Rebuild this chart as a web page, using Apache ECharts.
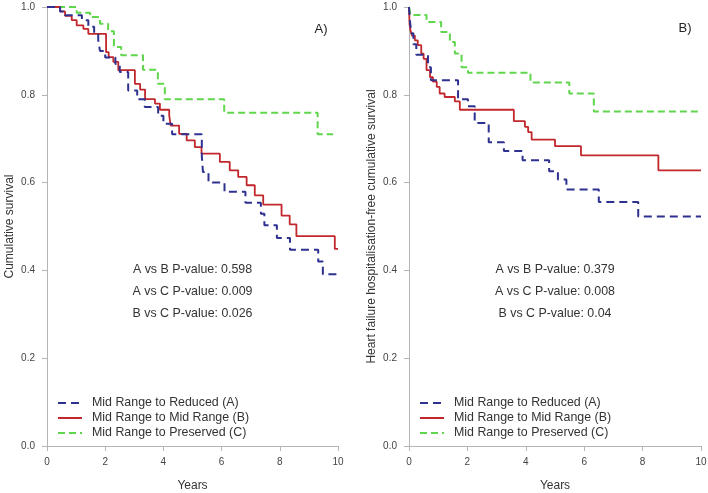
<!DOCTYPE html>
<html>
<head>
<meta charset="utf-8">
<script src="https://cdn.jsdelivr.net/npm/echarts@6/dist/echarts.min.js"></script>
<style>
html,body{margin:0;padding:0;background:#fff;}
#chart{width:708px;height:493px;}
</style>
</head>
<body>
<div id="chart"></div>
<script>
// ---------- DATA ----------
var seriesNames = ['Mid Range to Reduced (A)', 'Mid Range to Mid Range (B)', 'Mid Range to Preserved (C)'];
var xTicks = [0, 2, 4, 6, 8, 10];
var yTicks = [0.0, 0.2, 0.4, 0.6, 0.8, 1.0];

// Panel A) all-cause cumulative survival
var leftA_t = [0, 0.45, 0.62, 1.2, 1.42, 1.62, 1.76, 1.82, 2.0, 2.35, 2.5, 2.79, 3.1, 3.36, 3.82, 4.0, 4.3, 5.32, 5.36, 5.55, 6.1, 6.82, 7.35, 7.47, 7.9, 8.35, 9.32, 9.48, 10.0];
var leftA_s = [1.0, 0.99, 0.981, 0.97, 0.955, 0.94, 0.925, 0.90, 0.885, 0.87, 0.852, 0.81, 0.79, 0.772, 0.752, 0.734, 0.71, 0.66, 0.624, 0.60, 0.579, 0.554, 0.529, 0.503, 0.474, 0.447, 0.42, 0.391, 0.391];
var leftB_t = [0, 0.45, 0.62, 0.85, 1.02, 1.25, 1.42, 2.03, 2.12, 2.28, 2.45, 3.02, 3.2, 3.37, 3.71, 3.88, 4.2, 4.25, 4.54, 4.8, 5.08, 5.31, 5.94, 6.28, 6.57, 6.86, 7.14, 7.43, 8.06, 8.34, 8.57, 9.89, 10.0];
var leftB_s = [1.0, 0.99, 0.98, 0.97, 0.958, 0.95, 0.939, 0.897, 0.886, 0.875, 0.856, 0.825, 0.812, 0.79, 0.78, 0.766, 0.753, 0.73, 0.711, 0.696, 0.681, 0.666, 0.647, 0.628, 0.613, 0.594, 0.571, 0.55, 0.525, 0.505, 0.478, 0.449, 0.449];
var leftC_t = [0, 1.02, 1.48, 1.82, 2.1, 2.3, 2.55, 3.3, 3.81, 4.05, 6.09, 9.30, 9.83];
var leftC_s = [1.0, 0.987, 0.977, 0.962, 0.945, 0.909, 0.89, 0.857, 0.825, 0.79, 0.759, 0.71, 0.71];

// Panel B) heart failure hospitalisation-free survival
var rightA_t = [0, 0.03, 0.08, 0.15, 0.25, 0.65, 0.75, 1.68, 2.02, 2.25, 2.73, 3.25, 3.89, 4.8, 5.1, 5.39, 6.5, 7.85, 10.0];
var rightA_s = [1.0, 0.97, 0.94, 0.915, 0.891, 0.863, 0.833, 0.79, 0.774, 0.736, 0.692, 0.672, 0.651, 0.626, 0.607, 0.584, 0.556, 0.523, 0.523];
var rightB_t = [0, 0.02, 0.05, 0.1, 0.2, 0.3, 0.42, 0.5, 0.6, 0.72, 0.82, 0.95, 1.05, 1.22, 1.57, 1.74, 3.59, 3.97, 4.08, 4.2, 5.0, 5.89, 8.54, 10.0];
var rightB_s = [1.0, 0.96, 0.947, 0.935, 0.924, 0.913, 0.894, 0.882, 0.856, 0.84, 0.83, 0.818, 0.803, 0.795, 0.785, 0.766, 0.74, 0.727, 0.715, 0.698, 0.683, 0.662, 0.628, 0.628];
var rightC_t = [0, 0.05, 0.6, 1.1, 1.4, 1.57, 1.8, 2.02, 4.16, 5.49, 6.33, 10.0];
var rightC_s = [1.0, 0.982, 0.966, 0.943, 0.92, 0.894, 0.863, 0.85, 0.828, 0.803, 0.762, 0.762];

var panelLabels = ['A)', 'B)'];
var yAxisNames = ['Cumulative survival', 'Heart failure hospitalisation-free cumulative survival'];
var xAxisName = 'Years';
var pTextLeft = ['A vs B P-value: 0.598', 'A vs C P-value: 0.009', 'B vs C P-value: 0.026'];
var pTextRight = ['A vs B P-value: 0.379', 'A vs C P-value: 0.008', 'B vs C P-value: 0.04'];

// ---------- BUILD ----------
function zip(t, s) { return t.map(function (v, i) { return [v, s[i]]; }); }

var colors = ['#2e3190', '#c1272d', '#5fd64c'];
var dashes = [[8, 5], null, [7, 4]];
var widths = [2, 1.8, 2];

var FONT = '"Liberation Sans", Arial, sans-serif';
var axisGrey = '#b5b5b5';
var labelGrey = '#444';

function xAxisOpt(gi) {
  return {
    type: 'value', gridIndex: gi, min: 0, max: 10, interval: 2,
    name: xAxisName, nameLocation: 'middle', nameGap: 34,
    nameTextStyle: { fontFamily: FONT, fontSize: 12, color: '#333' },
    axisLine: { show: true, lineStyle: { color: axisGrey, width: 1 } },
    axisTick: { show: true, length: 5, lineStyle: { color: axisGrey } },
    axisLabel: { fontFamily: FONT, fontSize: 10, color: labelGrey, margin: 11 },
    splitLine: { show: false }
  };
}
function yAxisOpt(gi) {
  return {
    type: 'value', gridIndex: gi, min: 0, max: 1, interval: 0.2,
    name: yAxisNames[gi], nameLocation: 'middle', nameGap: 31,
    nameTextStyle: { fontFamily: FONT, fontSize: 12, color: '#333' },
    axisLine: { show: true, lineStyle: { color: axisGrey, width: 1 } },
    axisTick: { show: true, length: 5, lineStyle: { color: axisGrey } },
    axisLabel: { fontFamily: FONT, fontSize: 10, color: labelGrey, margin: 12,
      formatter: function (v) { return v.toFixed(1); } },
    splitLine: { show: false }
  };
}

var dataSets = [
  [zip(leftA_t, leftA_s), zip(leftB_t, leftB_s), zip(leftC_t, leftC_s)],
  [zip(rightA_t, rightA_s), zip(rightB_t, rightB_s), zip(rightC_t, rightC_s)]
];

var series = [];
for (var g = 0; g < 2; g++) {
  for (var k = 0; k < 3; k++) {
    series.push({
      type: 'line', name: seriesNames[k], xAxisIndex: g, yAxisIndex: g,
      data: dataSets[g][k], step: 'end', symbol: 'none', animation: false,
      z: 3 - k,
      lineStyle: { color: colors[k], width: widths[k], type: dashes[k] || 'solid' },
      itemStyle: { color: colors[k] }
    });
  }
}

function legendOpt(left) {
  return {
    orient: 'vertical', left: left, top: 392,
    itemWidth: 24, itemHeight: 10, itemGap: 3,
    selectedMode: false,
    itemStyle: { opacity: 0 },
    data: seriesNames.slice(),
    textStyle: { fontFamily: FONT, fontSize: 12.4, color: '#333', padding: [0, 0, 0, 5] }
  };
}

function pTexts(cx, lines) {
  return lines.map(function (t, i) {
    return {
      type: 'text', x: cx, y: 270 + i * 21.7,
      style: { text: t, fontFamily: FONT, fontSize: 12.4, fill: '#333', align: 'center', verticalAlign: 'middle' }
    };
  });
}

var graphics = [].concat(
  pTexts(192.5, pTextLeft),
  pTexts(555, pTextRight),
  [
    { type: 'text', x: 321, y: 29, style: { text: panelLabels[0], fontFamily: FONT, fontSize: 13, fill: '#222', align: 'center', verticalAlign: 'middle' } },
    { type: 'text', x: 685, y: 28, style: { text: panelLabels[1], fontFamily: FONT, fontSize: 13, fill: '#222', align: 'center', verticalAlign: 'middle' } }
  ]
);

var option = {
  backgroundColor: '#fff',
  animation: false,
  grid: [
    { left: 47, top: 7, width: 291, height: 439, containLabel: false, outerBoundsMode: 'none' },
    { left: 409, top: 7, width: 292, height: 439, containLabel: false, outerBoundsMode: 'none' }
  ],
  xAxis: [xAxisOpt(0), xAxisOpt(1)],
  yAxis: [yAxisOpt(0), yAxisOpt(1)],
  legend: [legendOpt(52), legendOpt(414)],
  series: series,
  graphic: graphics
};

var chart = echarts.init(document.getElementById('chart'), null, { renderer: 'canvas' });
chart.setOption(option);
</script>
</body>
</html>
